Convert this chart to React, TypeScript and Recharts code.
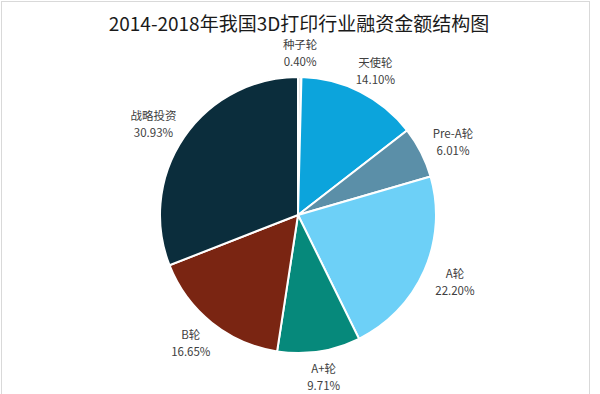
import { PieChart, Pie, Cell } from 'recharts';

const categories = ['种子轮', '天使轮', 'Pre-A轮', 'A轮', 'A+轮', 'B轮', '战略投资'];
const shares = [0.4, 14.1, 6.01, 22.2, 9.71, 16.65, 30.93];
const sliceColors = ['#E7E6E6', '#0CA4DC', '#5B8FA8', '#6DD0F7', '#06897B', '#7A2512', '#0B2D3C'];

const data = categories.map((name, i) => ({ name, value: shares[i] }));

const RADIAN = Math.PI / 180;
const FONT = '"Noto Sans CJK SC", "Noto Sans", sans-serif';

// rough text width: CJK glyphs are full width, latin about half
const textWidth = (s: string) =>
  [...s].reduce((w, ch) => w + (ch.charCodeAt(0) > 255 ? 11.5 : 6.5), 0);

function SliceLabel(props: any) {
  const { cx, cy, midAngle, outerRadius, name, value } = props;
  const dx = Math.cos(-midAngle * RADIAN);
  const dy = Math.sin(-midAngle * RADIAN);
  const pct = `${value.toFixed(2)}%`;
  const halfW = Math.max(textWidth(name), textWidth(pct)) / 2;
  const halfH = 11;
  const r = outerRadius + 14;
  const x = cx + r * dx + dx * halfW;
  const y = cy + r * dy + dy * halfH;
  return (
    <g>
      <text x={x} y={y - 3} textAnchor="middle" fontSize={11.5} fill="#404040" fontFamily={FONT}>
        {name}
      </text>
      <text x={x} y={y + 14} textAnchor="middle" fontSize={11.5} fill="#404040" fontFamily={FONT}>
        {pct}
      </text>
    </g>
  );
}

export default function App() {
  return (
    <div style={{ position: 'fixed', top: 0, left: 0, width: 600, height: 394, background: '#fff' }}>
      <div
        style={{
          position: 'absolute',
          left: 1,
          top: 1,
          width: 589,
          height: 395,
          border: '1px solid #d9d9d9',
          boxSizing: 'border-box',
        }}
      />
      <PieChart width={600} height={394} margin={{ top: 0, right: 0, bottom: 0, left: 0 }}>
        <text x={299} y={31} textAnchor="middle" fontSize={19} fill="#1a1a1a" fontFamily={FONT}>
          2014-2018年我国3D打印行业融资金额结构图
        </text>
        <Pie
          data={data}
          dataKey="value"
          nameKey="name"
          cx={298}
          cy={215}
          outerRadius={138}
          startAngle={90}
          endAngle={-270}
          stroke="#fff"
          strokeWidth={2}
          labelLine={false}
          label={SliceLabel}
          isAnimationActive={false}
        >
          {data.map((d, i) => (
            <Cell key={d.name} fill={sliceColors[i]} />
          ))}
        </Pie>
      </PieChart>
    </div>
  );
}
